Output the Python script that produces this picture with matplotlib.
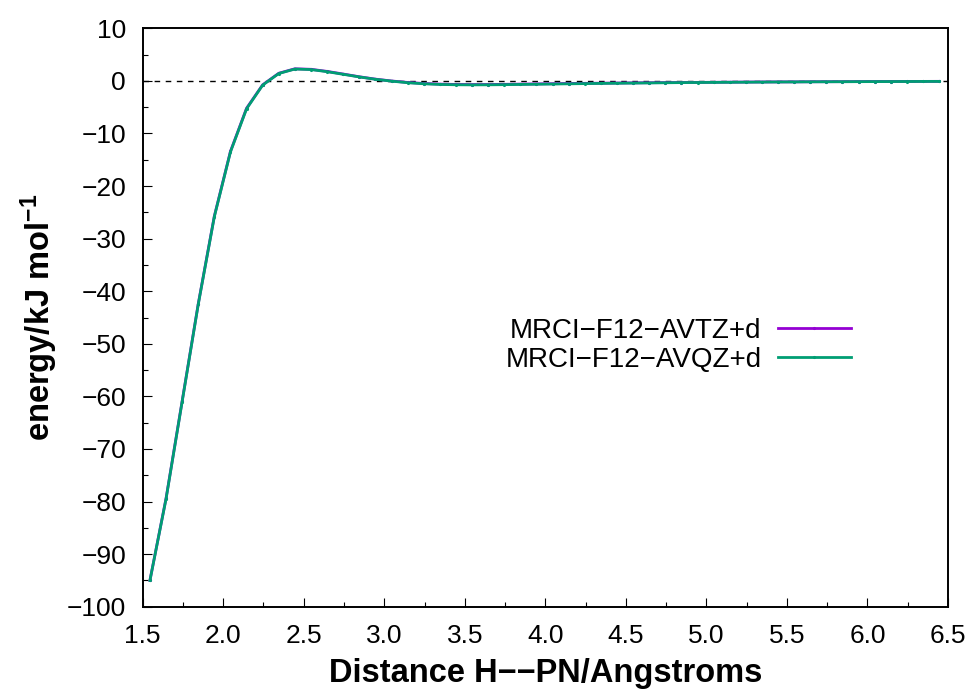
import matplotlib
matplotlib.use("Agg")
import matplotlib.pyplot as plt
from matplotlib.ticker import MultipleLocator, FormatStrFormatter

plt.rcParams['font.family'] = ['Liberation Sans', 'DejaVu Sans']
plt.rcParams['mathtext.fontset'] = 'custom'
plt.rcParams['mathtext.rm'] = 'Liberation Sans:bold'
plt.rcParams['mathtext.bf'] = 'Liberation Sans:bold'
plt.rcParams['mathtext.default'] = 'bf'
plt.rcParams['axes.unicode_minus'] = True

r = [1.545, 1.645, 1.745, 1.845, 1.945, 2.045, 2.145, 2.245, 2.345, 2.445,
     2.545, 2.645, 2.745, 2.845, 2.945, 3.045, 3.145, 3.245, 3.345, 3.445,
     3.545, 3.645, 3.745, 3.845, 3.945, 4.045, 4.145, 4.245, 4.345, 4.445,
     4.545, 4.645, 4.745, 4.845, 4.945, 5.045, 5.145, 5.245, 5.345, 5.445,
     5.545, 5.645, 5.745, 5.845, 5.945, 6.045, 6.145, 6.245, 6.345, 6.445]

e_avtz = [-95.0, -79.4, -60.9, -42.4, -25.7, -13.4, -5.2, -0.75, 1.45, 2.3,
          2.2, 1.8, 1.3, 0.78, 0.33, -0.02, -0.3, -0.5, -0.62, -0.68,
          -0.7, -0.69, -0.66, -0.62, -0.58, -0.54, -0.5, -0.47, -0.44, -0.41,
          -0.38, -0.35, -0.33, -0.31, -0.29, -0.27, -0.25, -0.23, -0.21, -0.2,
          -0.19, -0.17, -0.16, -0.15, -0.14, -0.13, -0.12, -0.11, -0.1, -0.09]

e_avqz = [-95.0, -79.5, -61.0, -42.5, -25.8, -13.5, -5.3, -0.8, 1.4, 2.25,
          2.15, 1.75, 1.25, 0.75, 0.3, -0.05, -0.35, -0.55, -0.68, -0.74,
          -0.76, -0.75, -0.72, -0.68, -0.64, -0.6, -0.56, -0.52, -0.48, -0.45,
          -0.42, -0.39, -0.36, -0.33, -0.31, -0.29, -0.27, -0.25, -0.23, -0.21,
          -0.2, -0.18, -0.17, -0.16, -0.15, -0.14, -0.13, -0.12, -0.11, -0.1]

labels = ["MRCI\u2212F12\u2212AVTZ+d", "MRCI\u2212F12\u2212AVQZ+d"]
colors = ["#9400D3", "#009E73"]

fig = plt.figure(figsize=(9.74, 6.95), dpi=100)
ax = fig.add_axes([0.1465, 0.127, 0.8268, 0.8323])

ax.axhline(0, color='black', lw=1.0, ls=(0, (4, 4)), zorder=1)
ax.plot(r, e_avtz, color=colors[0], lw=2.0, marker='.', ms=2.5, label=labels[0], zorder=2)
ax.plot(r, e_avqz, color=colors[1], lw=2.0, marker='.', ms=2.5, label=labels[1], zorder=3)

ax.set_xlim(1.5, 6.5)
ax.set_ylim(-100, 10)
ax.xaxis.set_major_locator(MultipleLocator(0.5))
ax.xaxis.set_minor_locator(MultipleLocator(0.25))
ax.yaxis.set_major_locator(MultipleLocator(10))
ax.yaxis.set_minor_locator(MultipleLocator(5))
ax.xaxis.set_major_formatter(FormatStrFormatter('%.1f'))

ax.tick_params(which='both', direction='in', top=False, right=False, width=0.8, labelsize=19)
ax.tick_params(which='major', length=6.5)
ax.tick_params(which='minor', length=3.6)
ax.tick_params(axis='x', pad=12.5)
ax.tick_params(axis='y', pad=12)
for s in ax.spines.values():
    s.set_linewidth(1.4)

ax.set_xlabel("Distance H\u2212\u2212PN/Angstroms", fontsize=23.5, fontweight='bold', labelpad=7)
ax.set_ylabel(r"energy/kJ mol$^{\mathbf{-1}}$", fontsize=23.5, fontweight='bold', labelpad=5)

leg = ax.legend(loc='center right', bbox_to_anchor=(0.879, 0.452), frameon=False,
                markerfirst=False, fontsize=20, handlelength=2.6, handletextpad=0.6,
                labelspacing=0.12, borderaxespad=0, borderpad=0)

fig.savefig("out.png", dpi=100)
